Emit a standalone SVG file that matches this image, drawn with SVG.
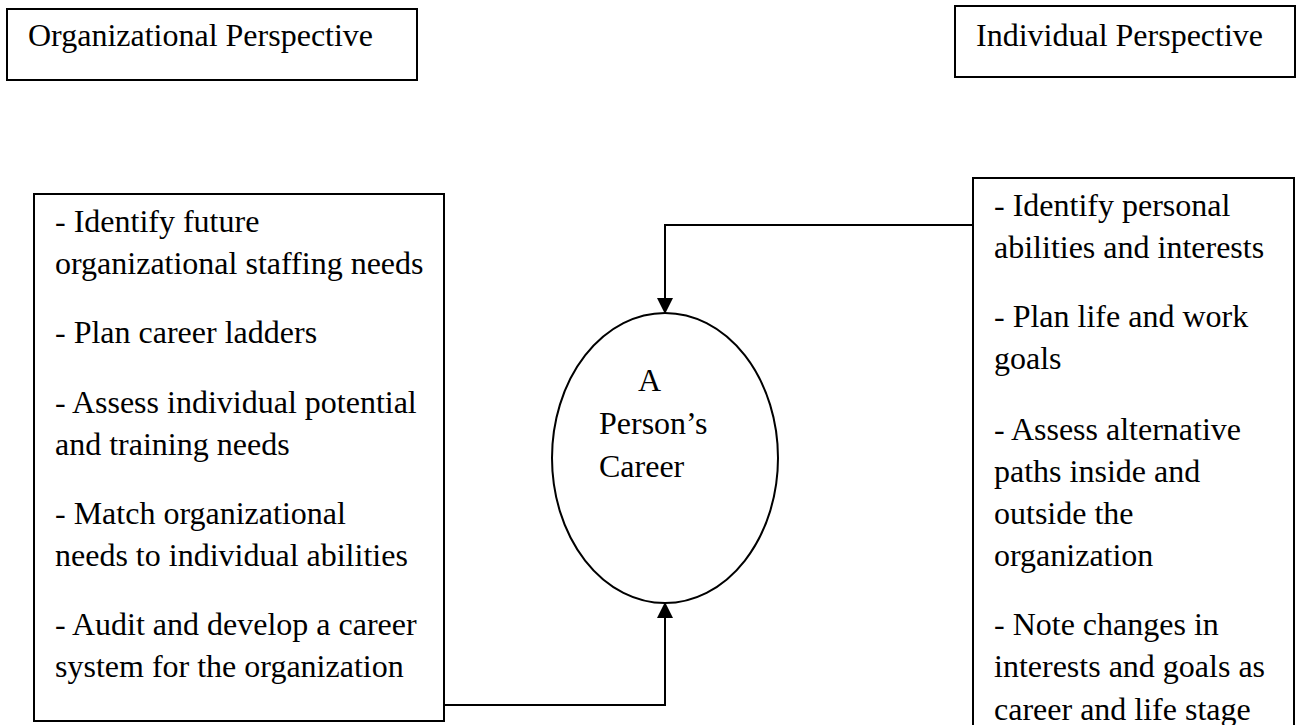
<svg xmlns="http://www.w3.org/2000/svg" width="1301" height="725" viewBox="0 0 1301 725">
<style>
.box{fill:#fff;stroke:#000;stroke-width:2}
.t{font-family:"Liberation Serif","Times New Roman",serif;font-size:32px;fill:#000}
.c{fill:none;stroke:#000;stroke-width:2}
</style>
<defs>
<marker id="ah" markerWidth="16" markerHeight="16" refX="15" refY="8" orient="auto" markerUnits="userSpaceOnUse">
<path d="M0,0 L16,8 L0,16 Z" fill="#000"/>
</marker>
</defs>
<rect width="1301" height="725" fill="#fff"/>
<g id="org-title">
<rect class="box" x="7" y="9" width="410" height="71"/>
<text class="t" x="28" y="46">Organizational Perspective</text>
</g>
<g id="ind-title">
<rect class="box" x="955" y="6" width="340" height="71"/>
<text class="t" x="976" y="46">Individual Perspective</text>
</g>
<g id="org-list">
<rect class="box" x="34" y="194" width="410" height="527"/>
<text class="t" x="55" y="232">- Identify future</text>
<text class="t" x="55" y="274">organizational staffing needs</text>
<text class="t" x="55" y="343">- Plan career ladders</text>
<text class="t" x="55" y="413">- Assess individual potential</text>
<text class="t" x="55" y="455">and training needs</text>
<text class="t" x="55" y="524">- Match organizational</text>
<text class="t" x="55" y="566">needs to individual abilities</text>
<text class="t" x="55" y="635">- Audit and develop a career</text>
<text class="t" x="55" y="677">system for the organization</text>
</g>
<g id="career">
<ellipse class="box" cx="665" cy="458" rx="113" ry="145"/>
<text class="t" x="638" y="391">A</text>
<text class="t" x="599" y="434">Person’s</text>
<text class="t" x="599" y="477">Career</text>
</g>
<g id="ind-list">
<rect class="box" x="973" y="178" width="321" height="560"/>
<text class="t" x="994" y="216">- Identify personal</text>
<text class="t" x="994" y="258">abilities and interests</text>
<text class="t" x="994" y="327">- Plan life and work</text>
<text class="t" x="994" y="369">goals</text>
<text class="t" x="994" y="440">- Assess alternative</text>
<text class="t" x="994" y="482">paths inside and</text>
<text class="t" x="994" y="524">outside the</text>
<text class="t" x="994" y="566">organization</text>
<text class="t" x="994" y="635">- Note changes in</text>
<text class="t" x="994" y="677">interests and goals as</text>
<text class="t" x="994" y="720">career and life stage</text>
</g>
<g id="connectors">
<path class="c" d="M973,225 H665 V313" marker-end="url(#ah)"/>
<path class="c" d="M444,705 H665 V603" marker-end="url(#ah)"/>
</g>
</svg>
